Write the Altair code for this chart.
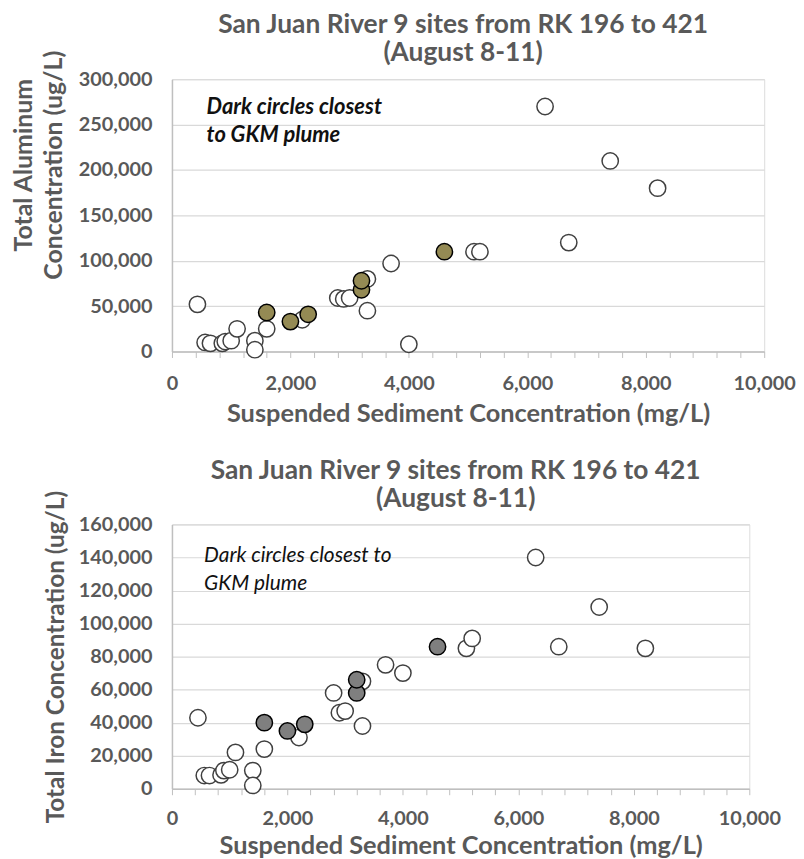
import altair as alt
import pandas as pd

FONT = "Lato"
GRAY = "#595959"

# ---- Data ----
title_lines = ["San Juan River 9 sites from RK 196 to 421", "(August 8-11)"]
x_title = "Suspended Sediment Concentration (mg/L)"

# Top panel: total aluminum
al_open_x = [430, 560, 650, 850, 900, 1000, 1100, 1400, 1400, 1600, 2200, 2800, 2900, 3000,
             3300, 3300, 3700, 4000, 5100, 5200, 6300, 6700, 7400, 8200]
al_open_y = [52000, 10000, 9000, 9000, 11000, 12000, 25000, 12000, 2000, 25000, 35000, 59000, 58000, 59000,
             80000, 45000, 97000, 8000, 110000, 110000, 270000, 120000, 210000, 180000]
al_dark_x = [1600, 2000, 2300, 3200, 3200, 4600]
al_dark_y = [43000, 33000, 41000, 68000, 78000, 110000]
al_note = ["Dark circles closest", "to GKM plume"]
al_note_pos = [585, 262000]

# Bottom panel: total iron
fe_open_x = [450, 560, 650, 850, 900, 1000, 1100, 1400, 1400, 1600, 2200, 2800, 2900, 3000,
             3300, 3300, 3700, 4000, 5100, 5200, 6300, 6700, 7400, 8200]
fe_open_y = [43000, 8000, 8000, 8400, 11000, 11500, 22000, 11000, 2000, 24000, 31000, 58000, 46000, 47000,
             65000, 38000, 75000, 70000, 85000, 91000, 140000, 86000, 110000, 85000]
fe_dark_x = [1600, 2000, 2300, 3200, 3200, 4600]
fe_dark_y = [40000, 35000, 39000, 58000, 66000, 86000]
fe_note = ["Dark circles closest to", "GKM plume"]
fe_note_pos = [557, 137000]

x_ticks = list(range(0, 10001, 400))


def panel(open_x, open_y, dark_x, dark_y, dark_fill, ymax, ystep, ytitle, ytitle_x, ytitle_y, ytitle_size,
          note, note_pos, note_weight, note_size, w, h, label_pad, title_pad, head_offset):
    df_open = pd.DataFrame({"x": open_x, "y": open_y})
    df_dark = pd.DataFrame({"x": dark_x, "y": dark_y})
    df_note = pd.DataFrame({"x": [note_pos[0]], "y": [note_pos[1]], "t": ["\n".join(note)]})

    xs = alt.Scale(domain=[0, 10000], nice=False, zero=True)
    ys = alt.Scale(domain=[0, ymax], nice=False, zero=True)
    xaxis = alt.Axis(values=x_ticks,
                     labelExpr="datum.value % 2000 === 0 ? format(datum.value, ',') : ''",
                     grid=False, ticks=True, tickSize=6, tickColor="#bfbfbf", tickWidth=1,
                     domainColor="#bfbfbf", domainWidth=1.5,
                     labelFont=FONT, labelFontWeight="bold", labelFontSize=20, labelColor=GRAY,
                     labelPadding=label_pad, labelOverlap=False, labelFlush=False,
                     title=x_title, titleFont=FONT, titleFontSize=25.5, titleFontWeight="bold",
                     titleColor=GRAY, titlePadding=title_pad)
    yaxis = alt.Axis(values=list(range(0, ymax + 1, ystep)),
                     labelExpr="format(datum.value, ',')",
                     grid=True, gridColor="#d9d9d9", gridWidth=1.2, ticks=False,
                     domainColor="#bfbfbf", domainWidth=1.5,
                     labelFont=FONT, labelFontWeight="bold", labelFontSize=20, labelColor=GRAY,
                     labelPadding=20, labelOverlap=False,
                     title=ytitle, titleFont=FONT, titleFontSize=ytitle_size, titleFontWeight="bold",
                     titleColor=GRAY, titleX=ytitle_x, titleY=ytitle_y, titleLineHeight=30,
                     titleAngle=270, titleAlign="center", titleBaseline="bottom")

    X = alt.X("x:Q", scale=xs, axis=xaxis)
    Y = alt.Y("y:Q", scale=ys, axis=yaxis)

    base_open = alt.Chart(df_open).mark_point(
        shape="circle", filled=True, fill="white", stroke="#404040", strokeWidth=1.5, size=270, opacity=1
    ).encode(x=X, y=Y)
    base_dark = alt.Chart(df_dark).mark_point(
        shape="circle", filled=True, fill=dark_fill, stroke="#000000", strokeWidth=1.5, size=270, opacity=1
    ).encode(x=X, y=Y)
    text = alt.Chart(df_note).mark_text(
        align="left", baseline="alphabetic", font=FONT, fontSize=note_size, fontStyle="italic",
        fontWeight=note_weight, color="#111111", lineBreak="\n", lineHeight=28
    ).encode(x=X, y=Y, text="t:N")

    return alt.layer(base_open, base_dark, text).properties(
        width=w, height=h,
        title=alt.TitleParams(title_lines, font=FONT, fontSize=26.5, fontWeight="bold", color=GRAY,
                              anchor="middle", frame="group", lineHeight=28, offset=head_offset, dx=-5)
    )


top = panel(al_open_x, al_open_y, al_dark_x, al_dark_y, "#948a54", 300000, 50000,
            ["Total Aluminum", "Concentration (ug/L)"], -136, 86, 25,
            al_note, al_note_pos, "bold", 22, 596, 274, 16, 8, -16)
bottom = panel(fe_open_x, fe_open_y, fe_dark_x, fe_dark_y, "#7f7f7f", 160000, 20000,
               "Total Iron Concentration (ug/L)", -104, 133, 24.5,
               fe_note, fe_note_pos, "normal", 21, 581, 266, 14, 5, -22)

chart = alt.vconcat(top, bottom, spacing=30).properties(
    padding={"left": 3, "top": 0, "right": 0, "bottom": 0}
).configure_view(stroke=None).configure(background="white")

chart.save("out.html", embed_options={"renderer": "svg", "actions": False})
